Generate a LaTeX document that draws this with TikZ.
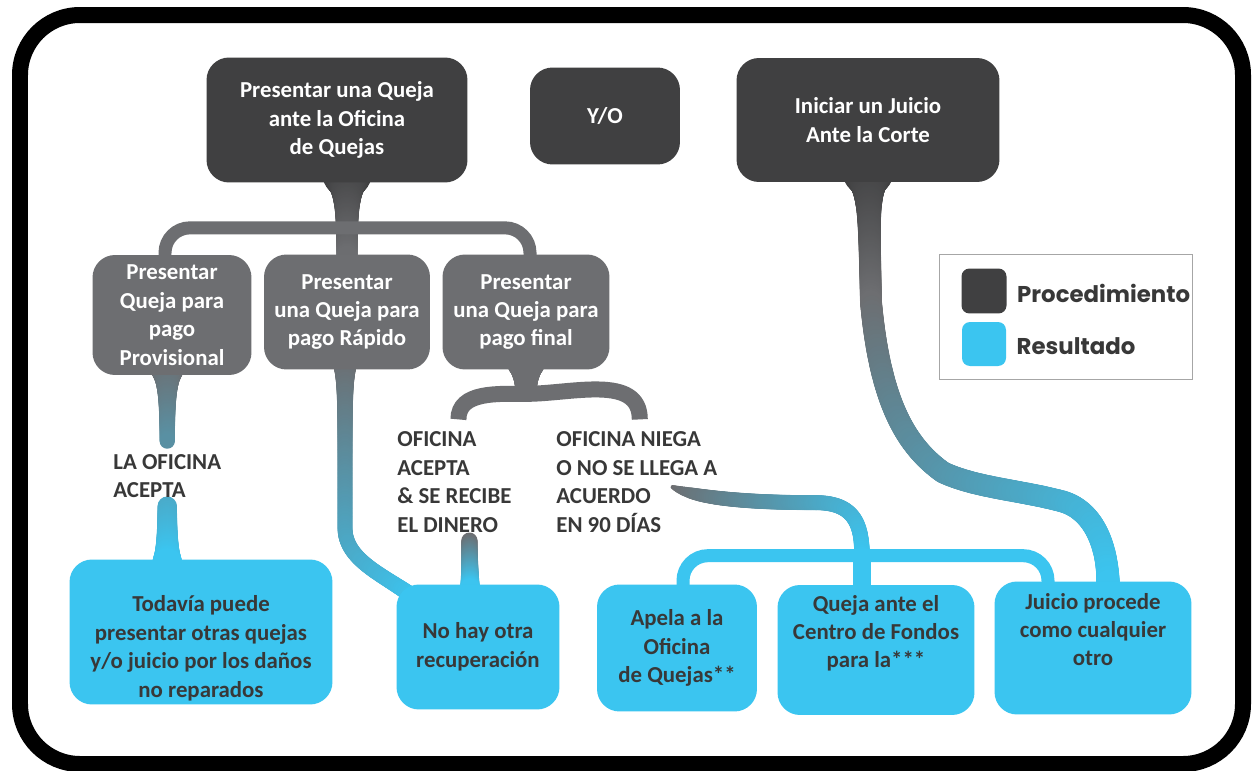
\documentclass[tikz,border=0pt]{standalone}
\usepackage{fontspec}
\setmainfont{Carlito}
\newfontfamily\legendfont{Poppins}
\usetikzlibrary{calc,backgrounds,decorations.markings}

\definecolor{procdark}{HTML}{404041}
\definecolor{stepgrey}{HTML}{6D6E71}
\definecolor{resblue}{HTML}{3BC5F0}
\definecolor{textdark}{HTML}{383838}
\colorlet{linkmid}{resblue!40!stepgrey}
\colorlet{linklow}{resblue!70!stepgrey}

\newcommand\boxfont{\fontsize{13}{16.2}\selectfont\bfseries}

\tikzset{
  box/.style={rounded corners=0.45cm, align=center, font=\boxfont, inner xsep=4pt, inner ysep=1pt},
  proc/.style={box, fill=procdark, text=white},
  stepbox/.style={box, fill=stepgrey, text=white},
  result/.style={box, fill=resblue, text=textdark},
  cond/.style={align=left, font=\boxfont, text=textdark, inner sep=0pt},
  fork/.style={line width=0.32cm, line cap=butt},
  flow/.style n args={5}{postaction={decorate, decoration={markings,
    mark=between positions 0 and 1 step 0.6pt with {
      \pgfmathsetmacro\flowd{\pgfkeysvalueof{/pgf/decoration/mark info/distance from start}}
      \pgfmathsetmacro\flowL{\pgfdecoratedpathlength}
      \pgfmathsetmacro\flowt{min(\flowd/\flowL,1)}
      \pgfmathtruncatemacro\flowp{100*\flowt}
      \pgfmathsetmacro\flowr{0.2835*(#4+(#3-#4)*exp(-min(\flowd/10,15))+(#5-#4)*exp(-min(max((\flowL-\flowd)/10,0),15)))}
      \fill[fill=#2!\flowp!#1] (0,0) circle (\flowr pt);
    }}}},
}

\begin{document}
\begin{tikzpicture}[x=0.02cm, y=-0.02cm]
  \useasboundingbox (0,0) rectangle (1252,771);
  % frame
  \draw[line width=0.32cm, rounded corners=1.2cm] (20,15) rectangle (1243,764);

  % procedures
  \node[proc, minimum width=5.22cm, minimum height=2.5cm] (queja) at (337,120) {Presentar una Queja\\ante la Oficina\\de Quejas};
  \node[proc, minimum width=3cm, minimum height=1.94cm] (yo) at (605,116) {Y/O};
  \node[proc, minimum width=5.26cm, minimum height=2.48cm] (juicio) at (868,120) {Iniciar un Juicio\\Ante la Corte};
  \node[stepbox, minimum width=3.18cm, minimum height=2.4cm] (provisional) at (172,315) {Presentar\\Queja para\\pago\\Provisional};
  \node[stepbox, minimum width=3.32cm, minimum height=2.3cm] (rapido) at (347,312) {Presentar\\una Queja para\\pago Rápido};
  \node[stepbox, minimum width=3.34cm, minimum height=2.3cm] (final) at (526,312) {Presentar\\una Queja para\\pago final};

  % conditions
  \node[cond, anchor=west] (acepta) at (113,476) {LA OFICINA\\ACEPTA};
  \node[cond, anchor=west] (recibe) at (397,482) {OFICINA\\ACEPTA\\\& SE RECIBE\\EL DINERO};
  \node[cond, anchor=west] (niega) at (556,482) {OFICINA NIEGA\\O NO SE LLEGA A\\ACUERDO\\EN 90 DÍAS};

  % results
  \node[result, minimum width=5.26cm, minimum height=2.9cm] (todavia) at (201,632) {\strut\\Todavía puede\\presentar otras quejas\\y/o juicio por los daños\\no reparados};
  \node[result, minimum width=3.26cm, minimum height=2.5cm] (norecup) at (478,647) {No hay otra\\recuperación};
  \node[result, minimum width=3.2cm, minimum height=2.54cm] (apela) at (677,648) {Apela a la\\Oficina\\de Quejas**};
  \node[result, minimum width=3.94cm, minimum height=2.6cm] (fondos) at (876,650) {Queja ante el\\Centro de Fondos\\para la***\\\strut};
  \node[result, minimum width=3.94cm, minimum height=2.66cm] (procede) at (1093,648) {Juicio procede\\como cualquier\\otro\\\strut};

  % legend
  \node[draw=black!35, line width=0.6pt, minimum width=5.06cm, minimum height=2.5cm] (legend) at (1066,317) {};
  \node[fill=procdark, rounded corners=0.16cm, minimum size=0.9cm] (legproc) at (984,291) {};
  \node[fill=resblue, rounded corners=0.16cm, minimum size=0.88cm] (legres) at (984,344) {};
  \node[font=\legendfont\fontsize{13}{16}\selectfont\bfseries, text=textdark, anchor=west, inner sep=0pt] (legproctext) at ($(legproc.east)+(10,2.5)$) {Procedimiento};
  \node[font=\legendfont\fontsize{13}{16}\selectfont\bfseries, text=textdark, anchor=west, inner sep=0pt] (legrestext) at ($(legres.east)+(10,2)$) {Resultado};

  \begin{scope}[on background layer]
    \fill[white] (0,0) rectangle (1252,771);
    % complaint branches
    \path[flow={procdark}{stepgrey}{50}{21}{21}] ($(queja.south -| rapido.north)+(0,-10)$) -- ($(rapido.north)+(0,4)$);
    \draw[fork, stepgrey, line width=0.26cm, rounded corners=0.5cm] ($(provisional.north)+(-7,4)$) |- ($(queja.south)+(0,45)$) -| ($(final.north)+(4,4)$);
    % provisional payment
    \path[flow={stepgrey}{linkmid}{34}{15}{15}] ($(provisional.south -| acepta.north)+(0,-8)$) -- ($(acepta.north)+(0,-12)$);
    \path[flow={linklow}{resblue}{19}{19}{30}] ($(acepta.south)+(0,8)$) -- ($(todavia.north -| acepta.south)+(0,4)$);
    % quick payment
    \path[flow={stepgrey}{resblue}{24}{15}{18}] ($(rapido.south)+(-2,-6)$) -- ($(rapido.south)+(-2,158)$) .. controls +(0,35) and +(-30,-25) .. ($(norecup.north west)+(24,18)$);
    % final payment
    \path[flow={stepgrey}{stepgrey}{40}{17}{17}] ($(final.south)+(0,-10)$) -- ($(final.south)+(0,22)$);
    \draw[fork, stepgrey] ($(recibe.north)+(4,-12)$) to[out=90,in=180] ($(final.south)+(0,24)$) to[out=0,in=90] ($(niega.north)+(3,-12)$);
    \path[flow={stepgrey}{resblue}{16}{16}{20}] ($(recibe.south)+(15,8)$) to[out=-90,in=90] ($(norecup.north)+(-8,4)$);
    \path[flow={stepgrey}{resblue}{4}{15}{16}] ($(niega.east)+(-45,5)$) .. controls +(25,12) and +(-60,0) .. ($(fondos.north)+(-60,-82)$) .. controls +(40,0) and +(0,-30) .. ($(fondos.north)+(-14,-28)$);
    \draw[fork, resblue, line width=0.26cm, rounded corners=0.5cm] ($(apela.north)+(6,4)$) |- ($(fondos.north)+(0,-29)$) -| ($(procede.north)+(-45,4)$);
    \draw[fork, resblue, line width=0.36cm] ($(fondos.north)+(-14,-30)$) -- ($(fondos.north)+(-14,4)$);
    % lawsuit
    \coordinate (jbend) at ($(juicio.south)+(3,120)$);
    \path[flow={procdark}{stepgrey}{52}{22}{22}] ($(juicio.south)+(0,-12)$) -- (jbend);
    \path[flow={stepgrey}{resblue}{22}{22}{24}] (jbend) .. controls +(9,98) and +(-38,-27) .. ($(juicio.south)+(75,290)$) .. controls +(32,15) and +(-38,-10) .. ($(juicio.south)+(190,318)$) .. controls +(35,7) and +(0,-40) .. ($(procede.north)+(15,4)$);
  \end{scope}
\end{tikzpicture}
\end{document}
